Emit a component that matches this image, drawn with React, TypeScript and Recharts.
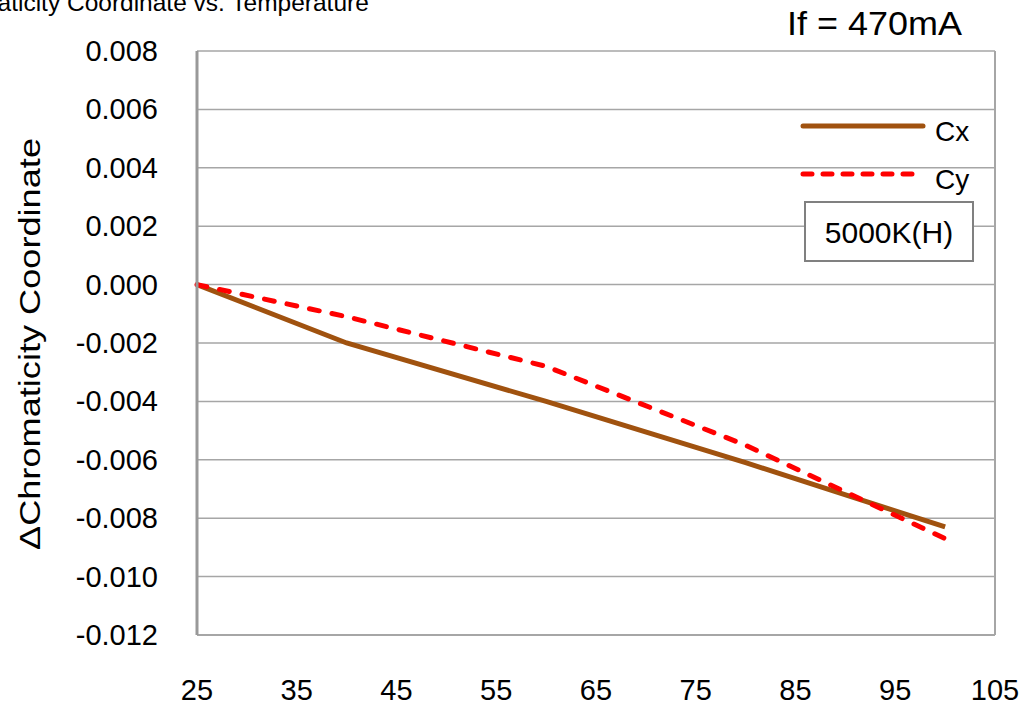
import { LineChart, Line, XAxis, YAxis, CartesianGrid, ReferenceLine } from "recharts";

// temperatures (°C) and chromaticity shift
const temps = [25, 40, 60, 80, 100];
const cxValues = [0, -0.002, -0.004, -0.0061, -0.0083];
const cyValues = [0, -0.0011, -0.0028, -0.0055, -0.0087];

const xTicks = [25, 35, 45, 55, 65, 75, 85, 95, 105];
const yTicks = [0.008, 0.006, 0.004, 0.002, 0, -0.002, -0.004, -0.006, -0.008, -0.01, -0.012];

const data = temps.map((t, i) => ({ temp: t, Cx: cxValues[i], Cy: cyValues[i] }));

const FONT = "'Liberation Sans', Arial, sans-serif";
const BROWN = "#A0520F";
const RED = "#FF0000";
const GRID = "#a6a6a6";

// labels sit well below the plot, baseline near y=700
const XTick = ({ x, payload }: any) => (
    <text x={x} y={700} textAnchor="middle" fontFamily={FONT} fontSize={29} fill="#000">
        {payload.value}
    </text>
);

const YTick = ({ y, payload }: any) => (
    <text x={158} y={y + 10} textAnchor="end" fontFamily={FONT} fontSize={29} fill="#000">
        {payload.value.toFixed(3)}
    </text>
);

export default function App() {
    return (
        <div style={{ position: "fixed", left: 0, top: 0, width: 1024, height: 711, background: "#fff" }}>
            <LineChart
                width={1024}
                height={711}
                data={data}
                margin={{ top: 51, right: 29, left: 0, bottom: 0 }}
            >
                <CartesianGrid vertical={false} stroke={GRID} strokeWidth={1.5} />
                <XAxis
                    dataKey="temp"
                    type="number"
                    domain={[25, 105]}
                    ticks={xTicks}
                    height={76}
                    tick={<XTick />}
                    tickLine={false}
                    axisLine={{ stroke: GRID, strokeWidth: 2 }}
                />
                <YAxis
                    type="number"
                    domain={[-0.012, 0.008]}
                    ticks={yTicks}
                    width={197}
                    tick={<YTick />}
                    tickLine={false}
                    axisLine={{ stroke: "#999", strokeWidth: 3 }}
                />
                <ReferenceLine x={105} stroke={GRID} strokeWidth={2} />
                <Line
                    dataKey="Cx"
                    stroke={BROWN}
                    strokeWidth={5}
                    dot={false}
                    isAnimationActive={false}
                />
                <Line
                    dataKey="Cy"
                    stroke={RED}
                    strokeWidth={5}
                    strokeDasharray="10 13"
                    strokeLinecap="round"
                    dot={false}
                    isAnimationActive={false}
                />
            </LineChart>
            <svg width={1024} height={711} style={{ position: "absolute", left: 0, top: 0, pointerEvents: "none" }}>
                <text x={-76} y={11} fontFamily={FONT} fontSize={24.5} fill="#000">
                    Chromaticity Coordinate vs. Temperature
                </text>
                <text x={787} y={35} fontFamily={FONT} fontSize={33} textLength={175} lengthAdjust="spacingAndGlyphs" fill="#000">
                    If = 470mA
                </text>
                <text
                    transform="translate(40, 344) rotate(-90)"
                    textAnchor="middle"
                    fontFamily={FONT}
                    fontSize={30}
                    textLength={412}
                    lengthAdjust="spacingAndGlyphs"
                    fill="#000"
                >
                    ΔChromaticity Coordinate
                </text>
                {/* legend */}
                <line x1={803} y1={126} x2={923} y2={126} stroke={BROWN} strokeWidth={5} strokeLinecap="round" />
                <text x={935} y={141} fontFamily={FONT} fontSize={28} fill="#000">Cx</text>
                <line x1={803} y1={174} x2={918} y2={174} stroke={RED} strokeWidth={5} strokeDasharray="9 11" strokeLinecap="round" />
                <text x={935} y={189} fontFamily={FONT} fontSize={28} fill="#000">Cy</text>
                <rect x={805} y={202} width={168} height={59} fill="#fff" stroke="#808080" strokeWidth={2} />
                <text x={889} y={243} textAnchor="middle" fontFamily={FONT} fontSize={30} fill="#000">
                    5000K(H)
                </text>
            </svg>
        </div>
    );
}
